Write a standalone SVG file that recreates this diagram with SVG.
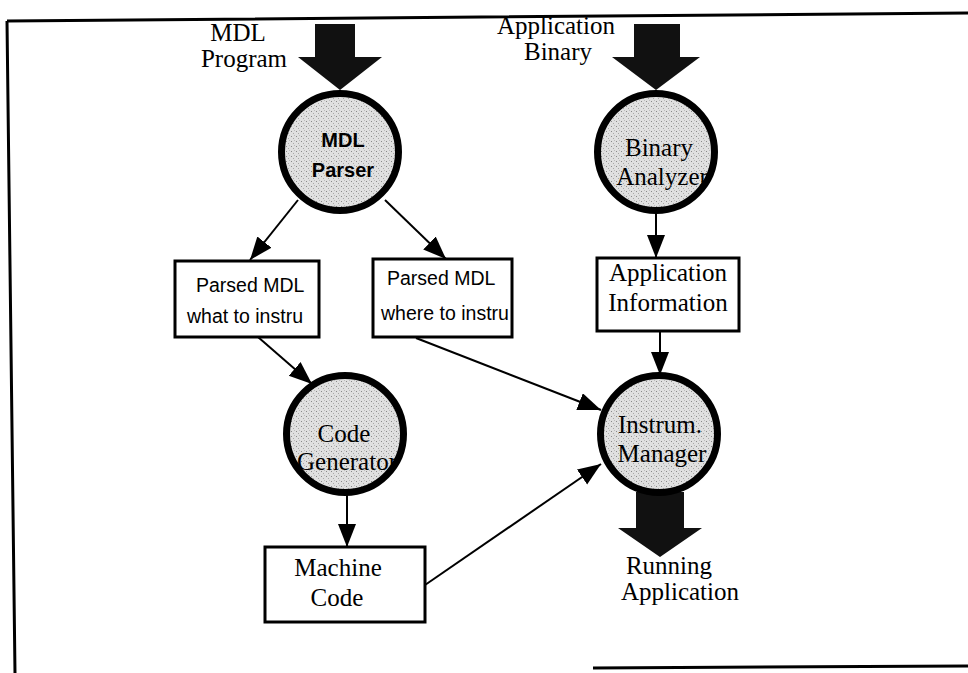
<svg xmlns="http://www.w3.org/2000/svg" width="968" height="673" viewBox="0 0 968 673">
  <style>
    .frame { fill: none; stroke: #000; stroke-width: 3; }
    .proc { fill: url(#stipple); stroke: #000; stroke-width: 7; }
    .data { fill: #fff; stroke: #000; stroke-width: 3; }
    .serif { font-family: "Liberation Serif", "Times New Roman", serif; font-size: 25px; fill: #000; }
    .sans { font-family: "Liberation Sans", Arial, sans-serif; font-size: 19.5px; fill: #000; }
    .sansb { font-family: "Liberation Sans", Arial, sans-serif; font-size: 20px; font-weight: bold; fill: #000; }
    .flow { fill: none; stroke: #000; stroke-width: 2; marker-end: url(#head); }
    .big { fill: #111; stroke: none; }
  </style>
  <defs>
    <marker id="head" markerUnits="userSpaceOnUse" markerWidth="24" markerHeight="20" refX="23" refY="9" orient="auto">
      <path d="M0,0 L23,9 L0,18 Z" fill="#000"/>
    </marker>
    <!-- light grey stippled fill for the process bubbles -->
    <pattern id="stipple" patternUnits="userSpaceOnUse" width="5" height="5">
      <rect width="5" height="5" fill="#e0e0e0"/>
      <rect x="1" y="1" width="1" height="1" fill="#8a8a8a"/>
      <rect x="3" y="3" width="1" height="1" fill="#a8a8a8"/>
      <rect x="4" y="0" width="1" height="1" fill="#bcbcbc"/>
    </pattern>
  </defs>

  <rect width="968" height="673" fill="#fff"/>

  <!-- page frame -->
  <path class="frame" d="M7,21 L968,13 M7,21 L15,673 M593,668 L968,666"/>

  <!-- external inputs / output -->
  <g id="in-mdl">
    <path class="big" d="M315,24 H355 V57 H382 L340,90 L298,57 H315 Z"/>
    <text class="serif" x="238" y="41" text-anchor="middle">MDL</text>
    <text class="serif" x="244" y="67" text-anchor="middle">Program</text>
  </g>
  <g id="in-binary">
    <path class="big" d="M634,24 H680 V57 H700 L656,90 L612,57 H634 Z"/>
    <text class="serif" x="556" y="34" text-anchor="middle">Application</text>
    <text class="serif" x="558" y="60" text-anchor="middle">Binary</text>
  </g>
  <g id="out-running">
    <path class="big" d="M636,492 H684 V528 H702 L660,557 L618,528 H636 Z"/>
    <text class="serif" x="669" y="574" text-anchor="middle">Running</text>
    <text class="serif" x="680" y="600" text-anchor="middle">Application</text>
  </g>

  <!-- connectors -->
  <g id="connectors">
    <line class="flow" x1="298" y1="200" x2="250" y2="260"/>
    <line class="flow" x1="385" y1="200" x2="446" y2="259"/>
    <line class="flow" x1="656" y1="213" x2="656" y2="258"/>
    <line class="flow" x1="660" y1="331" x2="660" y2="375"/>
    <line class="flow" x1="258" y1="337" x2="312" y2="384"/>
    <line class="flow" x1="416" y1="338" x2="601" y2="410"/>
    <line class="flow" x1="347" y1="494" x2="347" y2="547"/>
    <line class="flow" x1="425" y1="585" x2="601" y2="464"/>
  </g>

  <!-- processes -->
  <g id="mdl-parser">
    <circle class="proc" cx="340" cy="152" r="58.5"/>
    <text class="sansb" x="343" y="147" text-anchor="middle">MDL</text>
    <text class="sansb" x="343" y="177" text-anchor="middle">Parser</text>
  </g>
  <g id="binary-analyzer">
    <circle class="proc" cx="656" cy="152" r="58.5"/>
    <text class="serif" x="659" y="156" text-anchor="middle">Binary</text>
    <text class="serif" x="662" y="185" text-anchor="middle">Analyzer</text>
  </g>
  <g id="code-generator">
    <circle class="proc" cx="345" cy="434" r="58.5"/>
    <text class="serif" x="344" y="442" text-anchor="middle">Code</text>
    <text class="serif" x="347" y="470" text-anchor="middle">Generator</text>
  </g>
  <g id="instrum-manager">
    <circle class="proc" cx="659" cy="434" r="58.5"/>
    <text class="serif" x="660" y="433" text-anchor="middle">Instrum.</text>
    <text class="serif" x="662" y="462" text-anchor="middle">Manager</text>
  </g>

  <!-- data stores -->
  <g id="parsed-what">
    <rect class="data" x="175" y="261" width="144" height="76"/>
    <text class="sans" x="196" y="292">Parsed MDL</text>
    <text class="sans" x="187" y="323">what to instru</text>
  </g>
  <g id="parsed-where">
    <rect class="data" x="373" y="259" width="139" height="78"/>
    <text class="sans" x="387" y="285">Parsed MDL</text>
    <text class="sans" x="381" y="320">where to instru</text>
  </g>
  <g id="app-info">
    <rect class="data" x="597" y="258" width="142" height="73"/>
    <text class="serif" x="668" y="281" text-anchor="middle">Application</text>
    <text class="serif" x="668" y="311" text-anchor="middle">Information</text>
  </g>
  <g id="machine-code">
    <rect class="data" x="265" y="547" width="160" height="75"/>
    <text class="serif" x="338" y="576" text-anchor="middle">Machine</text>
    <text class="serif" x="337" y="606" text-anchor="middle">Code</text>
  </g>
</svg>
